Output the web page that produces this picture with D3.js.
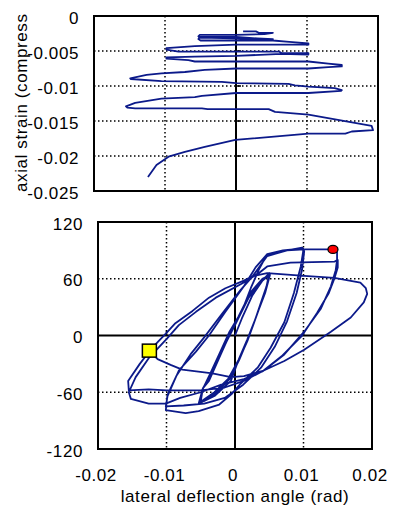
<!DOCTYPE html>
<html>
<head>
<meta charset="utf-8">
<script src="https://d3js.org/d3.v7.min.js"></script>
<style>
body { margin: 0; background: #fff; }
text { font-family: "Liberation Sans", Arial, sans-serif; font-size: 17px; letter-spacing: 0.6px; fill: #000; }
</style>
</head>
<body>
<svg id="chart" width="394" height="516"></svg>
<script>
// ---- data ----
// top panel: lateral deflection angle (rad) vs axial strain
var strainAngle = [
    0.0010, 0.0028, 0.0032, 0.0052,
    0.0040, 0.0000, -0.0051, -0.0053, -0.0051, 0.0000, 0.0030, 0.0052,
    0.0040, 0.0000, -0.0052, -0.0053, -0.0050, 0.0000, 0.0052,
    0.0075, 0.0102, 0.0102, 0.0064, 0.0000, -0.0058, -0.0098,
    -0.0098, -0.0081, 0.0000, 0.0061, 0.0064, 0.0102, 0.0102, 0.0064, 0.0000, -0.0058, -0.0098,
    -0.0098, -0.0067, -0.0058, 0.0102, 0.0130, 0.0149,
    0.0149, 0.0130, 0.0102, 0.0000, -0.0044, -0.0072, -0.0105, -0.0126, -0.0149,
    -0.0148, -0.0105, -0.0020, 0.0000, 0.0074, 0.0083, 0.0102, 0.0139, 0.0149,
    0.0148, 0.0102, 0.0000, -0.0048, -0.0058, -0.0105, -0.0142, -0.0155,
    -0.0153, -0.0142, -0.0048, -0.0040, 0.0046, 0.0055, 0.0102, 0.0191, 0.0193, 0.0163, 0.0154, 0.0102,
    -0.0001, -0.0044, -0.0072, -0.0095, -0.0112, -0.0124
];
var strainValue = [
    -0.0022, -0.0022, -0.0024, -0.0024,
    -0.0026, -0.0027, -0.0027, -0.0029, -0.0030, -0.0030, -0.0032, -0.0033,
    -0.0034, -0.0032, -0.0031, -0.0033, -0.0035, -0.0035, -0.0035,
    -0.0037, -0.0039, -0.0041, -0.0041, -0.0041, -0.0043, -0.0046,
    -0.0048, -0.0051, -0.0051, -0.0051, -0.0053, -0.0053, -0.0055, -0.0054, -0.0057, -0.0058, -0.0059,
    -0.0061, -0.0063, -0.0065, -0.0065, -0.0068, -0.0070,
    -0.0072, -0.0073, -0.0075, -0.0075, -0.0077, -0.0080, -0.0082, -0.0084, -0.0089,
    -0.0090, -0.0093, -0.0094, -0.0096, -0.0097, -0.0099, -0.0101, -0.0103, -0.0106,
    -0.0107, -0.0110, -0.0110, -0.0114, -0.0116, -0.0118, -0.0124, -0.0129,
    -0.0131, -0.0132, -0.0132, -0.0133, -0.0133, -0.0137, -0.0141, -0.0157, -0.0163, -0.0165, -0.0168, -0.0168,
    -0.0177, -0.0187, -0.0194, -0.0201, -0.0213, -0.0230
];

// bottom panel: lateral deflection angle (rad) vs lateral load (kN)
var loadAngle = [
    0, 0.0010, 0.0025, 0.0040, 0.0050,
    0.0046, 0.0038, 0.0030, 0.0018, 0.0005, -0.0010, -0.0030, -0.0050,
    -0.0047, -0.0038, -0.0025, -0.0012, 0.0002, 0.0020, 0.0035, 0.0050,
    0.0045, 0.0034, 0.0020, 0.0006, -0.0008, -0.0030, -0.0052,
    -0.0048, -0.0036, -0.0022, -0.0008, 0.0005, 0.0023, 0.0040, 0.0051,
    0.0044, 0.0033, 0.0018, 0.0003, -0.0006, -0.0030, -0.0053,
    -0.0047, -0.0038, -0.0019, -0.0004, 0.0013, 0.0023, 0.0035, 0.0047, 0.0076, 0.0098,
    0.0100, 0.0096, 0.0086, 0.0072, 0.0052, 0.0033, 0.0008, -0.0005, -0.0023, -0.0053, -0.0072, -0.0101,
    -0.0099, -0.0082, -0.0057, -0.0038, -0.0014, 0.0013, 0.0030, 0.0047, 0.0070, 0.0099,
    0.0101, 0.0098, 0.0090, 0.0076, 0.0058, 0.0038, 0.0012, -0.0015, -0.0045, -0.0075, -0.0101,
    -0.0098, -0.0085, -0.0065, -0.0045, -0.0020, 0.0008, 0.0025, 0.0047, 0.0076, 0.0101, 0.0143,
    0.0149, 0.0149, 0.0147, 0.0140, 0.0125, 0.0101, 0.0072, 0.0042, 0.0013, -0.0015, -0.0050, -0.0100, -0.0126, -0.0155, -0.0156,
    -0.0139, -0.0121, -0.0101, -0.0087, -0.0062, -0.0038, -0.0014, 0.0013, 0.0035, 0.0047, 0.0081, 0.0145, 0.0150,
    0.0150, 0.0145, 0.0137, 0.0120, 0.0098, 0.0068, 0.0040, 0.0013, -0.0020, -0.0050, -0.0080, -0.0101, -0.0126, -0.0152, -0.0155,
    -0.0145, -0.0126, -0.0099, -0.0082, -0.0057, -0.0028, 0.0013, 0.0028, 0.0047, 0.0101, 0.0145, 0.0159, 0.0183, 0.0191, 0.0193,
    0.0188, 0.0169, 0.0140, 0.0101, 0.0072, 0.0042, 0.0013, -0.0006, -0.0033, -0.0077, -0.0094, -0.0113, -0.0125
];
var loadValue = [
    0, 18, 42, 58, 66,
    52, 35, 18, -4, -26, -46, -60, -70,
    -56, -45, -26, -6, 14, 40, 55, 64,
    48, 26, -2, -26, -46, -62, -72,
    -58, -40, -18, 4, 20, 46, 60, 64,
    45, 24, -6, -30, -48, -64, -72,
    -56, -48, -17, 7, 31, 50, 70, 86, 90, 93,
    91, 73, 45, 14, -13, -34, -51, -62, -73, -80, -82, -79,
    -65, -37, -17, 0, 25, 52, 72, 86, 90, 92,
    89, 70, 45, 15, -12, -34, -52, -66, -72, -74, -75,
    -62, -42, -20, -2, 22, 48, 62, 84, 90, 91, 91,
    88, 80, 69, 52, 28, 4, -20, -37, -48, -55, -58, -58, -57, -58, -48,
    -30, -13, 2, 13, 26, 40, 50, 58, 66, 73, 77, 78, 80,
    72, 60, 45, 24, 0, -22, -38, -46, -52, -60, -66, -72, -72, -67, -60,
    -44, -24, -3, 11, 25, 40, 56, 63, 66, 63, 61, 59, 56, 50, 44,
    35, 19, 4, -15, -27, -37, -43, -44, -40, -36, -31, -25, -16
];

// markers: peak load (red circle) and last point (yellow square)
var peakAngle = 0.0143, peakLoad = 91;
var lastAngle = -0.0125, lastLoad = -16;

var angleTicks = [-0.02, -0.01, 0, 0.01, 0.02];
var strainTicks = [0, -0.005, -0.01, -0.015, -0.02, -0.025];
var loadTicks = [120, 60, 0, -60, -120];

// ---- drawing ----
var svg = d3.select('#chart');
var lineColor = '#0c1a8a';

var xTop = d3.scaleLinear().domain([-0.02, 0.02]).range([94, 378]);
var yTop = d3.scaleLinear().domain([-0.025, 0]).range([191, 16]);
var xBot = d3.scaleLinear().domain([-0.02, 0.02]).range([98, 372]);
var yBot = d3.scaleLinear().domain([-120, 120]).range([449, 222]);

function drawPanel(x, y, yTicks, zeroY) {
    var g = svg.append('g');
    var x0 = x.range()[0], x1 = x.range()[1];
    var y0 = y.range()[1], y1 = y.range()[0];
    var inner = yTicks.filter(function (d) { return d !== zeroY && d > y.domain()[0] && d < y.domain()[1]; });

    // dotted grid
    g.selectAll('.vg').data([-0.01, 0.01])
        .enter().append('line')
        .attr('x1', function (d) { return x(d); }).attr('x2', function (d) { return x(d); })
        .attr('y1', y0).attr('y2', y1)
        .attr('stroke', '#000').attr('stroke-width', 1.5).attr('stroke-dasharray', '1.5,2.5');
    g.selectAll('.hg').data(inner)
        .enter().append('line')
        .attr('y1', function (d) { return y(d); }).attr('y2', function (d) { return y(d); })
        .attr('x1', x0).attr('x2', x1)
        .attr('stroke', '#000').attr('stroke-width', 1.5).attr('stroke-dasharray', '1.5,2.5');

    // zero axes with small tics
    g.append('line').attr('x1', x(0)).attr('x2', x(0)).attr('y1', y0).attr('y2', y1)
        .attr('stroke', '#000').attr('stroke-width', 2);
    g.selectAll('.zt').data(inner)
        .enter().append('line')
        .attr('x1', x(0)).attr('x2', x(0) + 5)
        .attr('y1', function (d) { return y(d); }).attr('y2', function (d) { return y(d); })
        .attr('stroke', '#000').attr('stroke-width', 1.5);
    if (zeroY === 0) {
        g.append('line').attr('x1', x0).attr('x2', x1).attr('y1', y(0)).attr('y2', y(0))
            .attr('stroke', '#000').attr('stroke-width', 2);
        g.selectAll('.zx').data([-0.01, 0.01])
            .enter().append('line')
            .attr('x1', function (d) { return x(d); }).attr('x2', function (d) { return x(d); })
            .attr('y1', y(0)).attr('y2', y(0) - 5)
            .attr('stroke', '#000').attr('stroke-width', 1.5);
    }

    // frame
    g.append('rect').attr('x', x0).attr('y', y0).attr('width', x1 - x0).attr('height', y1 - y0)
        .attr('fill', 'none').attr('stroke', '#000').attr('stroke-width', 2);
    return g;
}

// top panel
drawPanel(xTop, yTop, strainTicks, null);
var topLine = d3.line()
    .x(function (d) { return xTop(strainAngle[d]); })
    .y(function (d) { return yTop(strainValue[d]); });
svg.append('path').attr('d', topLine(d3.range(strainAngle.length)))
    .attr('fill', 'none').attr('stroke', lineColor).attr('stroke-width', 1.8)
    .attr('stroke-linejoin', 'round');

svg.selectAll('.ty').data(strainTicks).enter().append('text')
    .attr('x', 79).attr('y', function (d) { return yTop(d) + 8; })
    .attr('text-anchor', 'end')
    .text(function (d) { return String(d); });

// bottom panel
drawPanel(xBot, yBot, loadTicks, 0);
var botLine = d3.line()
    .x(function (d) { return xBot(loadAngle[d]); })
    .y(function (d) { return yBot(loadValue[d]); });
svg.append('path').attr('d', botLine(d3.range(loadAngle.length)))
    .attr('fill', 'none').attr('stroke', lineColor).attr('stroke-width', 1.8)
    .attr('stroke-linejoin', 'round');

svg.append('rect')
    .attr('x', xBot(lastAngle) - 7).attr('y', yBot(lastLoad) - 6.5)
    .attr('width', 14).attr('height', 13)
    .attr('fill', '#ffff00').attr('stroke', '#000').attr('stroke-width', 1.5);
svg.append('ellipse')
    .attr('cx', xBot(peakAngle)).attr('cy', yBot(peakLoad))
    .attr('rx', 5).attr('ry', 4)
    .attr('fill', '#ff0000').attr('stroke', '#000').attr('stroke-width', 1.3);

svg.selectAll('.by').data(loadTicks).enter().append('text')
    .attr('x', 83).attr('y', function (d) { return yBot(d) + 7.5; })
    .attr('text-anchor', 'end')
    .text(function (d) { return String(d); });

svg.selectAll('.bx').data(angleTicks).enter().append('text')
    .attr('x', function (d) { return xBot(d) - 2; }).attr('y', 481)
    .attr('text-anchor', 'middle')
    .text(function (d) { return String(d); });

// axis titles
svg.append('text').attr('x', 235).attr('y', 502).attr('text-anchor', 'middle')
    .text('lateral deflection angle (rad)');

svg.append('text').attr('transform', 'translate(27,192) rotate(-90)')
    .attr('text-anchor', 'start')
    .text('axial strain (compress');

svg.append('clipPath').attr('id', 'ttl').append('rect')
    .attr('x', 0).attr('y', 275).attr('width', 40).attr('height', 200);
svg.append('text').attr('transform', 'translate(20,390) rotate(-90)')
    .attr('clip-path', 'url(#ttl)')
    .attr('text-anchor', 'start')
    .text('lateral load (kN)');
</script>
</body>
</html>
